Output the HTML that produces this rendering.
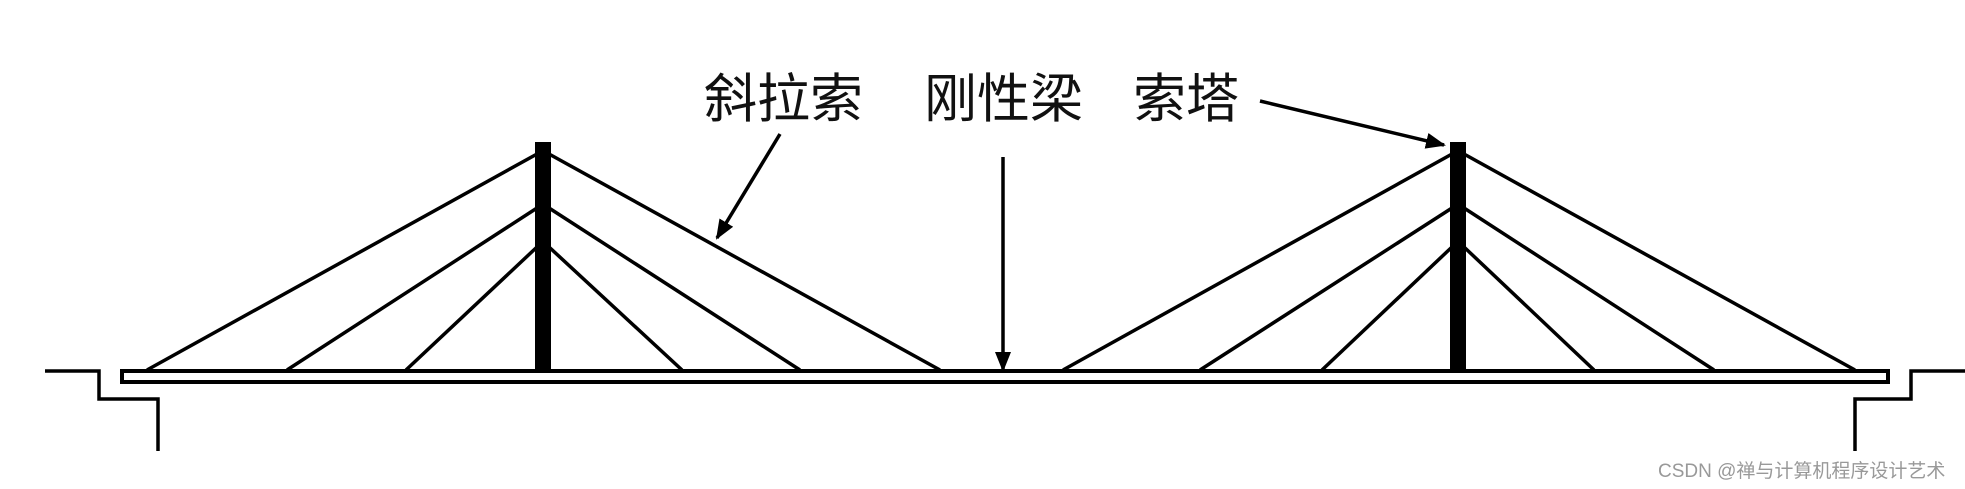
<!DOCTYPE html>
<html><head><meta charset="utf-8"><style>
html,body{margin:0;padding:0;background:#fff;}
svg{display:block}
</style></head><body>
<svg width="1965" height="489" viewBox="0 0 1965 489" xmlns="http://www.w3.org/2000/svg">
<defs>
<marker id="ah2" markerWidth="20" markerHeight="16" refX="18" refY="8" orient="auto" markerUnits="userSpaceOnUse" viewBox="0 0 20 16">
<path d="M0,0 L20,8 L0,16 z" fill="#000"/>
</marker>
</defs>
<g stroke="#000" stroke-width="3.5" fill="none">
<line x1="537" y1="154" x2="147" y2="370"/>
<line x1="537" y1="208" x2="287" y2="370"/>
<line x1="537" y1="247" x2="406" y2="370"/>
<line x1="549" y1="154" x2="940" y2="370"/>
<line x1="549" y1="208" x2="800" y2="370"/>
<line x1="549" y1="247" x2="682" y2="370"/>
<line x1="1452" y1="154" x2="1063" y2="370"/>
<line x1="1452" y1="208" x2="1200" y2="370"/>
<line x1="1452" y1="247" x2="1322" y2="370"/>
<line x1="1464" y1="154" x2="1855" y2="370"/>
<line x1="1464" y1="208" x2="1714" y2="370"/>
<line x1="1464" y1="247" x2="1594" y2="370"/>
</g>
<rect x="122" y="371" width="1766" height="11" fill="#fff" stroke="#000" stroke-width="4"/>
<rect x="535" y="142" width="16" height="229" fill="#000"/>
<rect x="1450" y="142" width="16" height="229" fill="#000"/>
<polyline points="45,371 99,371 99,399 158,399 158,451" fill="none" stroke="#000" stroke-width="3.5"/>
<polyline points="1965,371 1911,371 1911,399 1855,399 1855,451" fill="none" stroke="#000" stroke-width="3.5"/>
<g stroke="#000" stroke-width="3.5" fill="none">
<line x1="780" y1="134" x2="717" y2="238" marker-end="url(#ah2)"/>
<line x1="1003" y1="157" x2="1003" y2="370" marker-end="url(#ah2)"/>
<line x1="1260" y1="101" x2="1444" y2="145" marker-end="url(#ah2)"/>
</g>
<g font-family="'Liberation Sans','Noto Sans CJK SC',sans-serif" font-size="53" fill="#111">
<text x="704" y="117">斜拉索</text>
<text x="924" y="117">刚性梁</text>
<text x="1133" y="117">索塔</text>
</g>
<text x="1658" y="477" font-family="'Liberation Sans','Noto Sans CJK SC',sans-serif" font-size="19" fill="#999">CSDN @禅与计算机程序设计艺术</text>
</svg>
</body></html>
